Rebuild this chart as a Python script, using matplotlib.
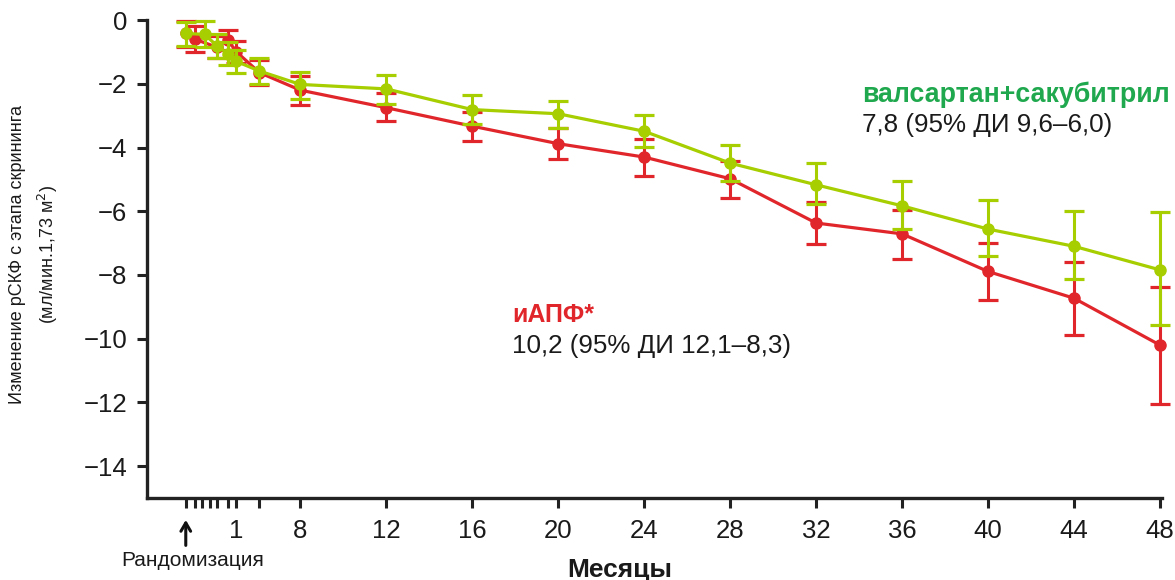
import matplotlib
matplotlib.use('Agg')
import matplotlib.pyplot as plt
from matplotlib.transforms import blended_transform_factory

plt.rcParams['font.family'] = ['Liberation Sans', 'DejaVu Sans']

# axis positions of visits (early visits are stretched on the chart)
tick_pos = [2.67, 3.09, 3.41, 3.78, 4.11, 4.62, 5.03, 6.10,
            8, 12, 16, 20, 24, 28, 32, 36, 40, 44, 48]
tick_labels = ['', '', '', '', '', '', '1', '',
               '8', '12', '16', '20', '24', '28', '32', '36', '40', '44', '48']

# валсартан+сакубитрил
green_x = [2.67, 3.55, 4.11, 4.62, 5.03, 6.10,
           8, 12, 16, 20, 24, 28, 32, 36, 40, 44, 48]
green_y = [-0.42, -0.45, -0.80, -1.05, -1.30, -1.60,
           -2.02, -2.16, -2.81, -2.94, -3.49, -4.49, -5.17, -5.83, -6.56, -7.10, -7.84]
green_hi = [-0.05, -0.02, -0.45, -0.70, -0.95, -1.20,
            -1.62, -1.73, -2.35, -2.53, -2.97, -3.91, -4.49, -5.05, -5.65, -6.00, -6.03]
green_lo = [-0.80, -0.86, -1.20, -1.40, -1.65, -2.02,
            -2.47, -2.62, -3.25, -3.40, -3.99, -5.04, -5.77, -6.56, -7.42, -8.13, -9.57]

# иАПФ
red_x = [2.67, 3.09, 4.11, 4.62, 5.03, 6.10,
         8, 12, 16, 20, 24, 28, 32, 36, 40, 44, 48]
red_y = [-0.40, -0.60, -0.85, -0.62, -1.00, -1.65,
         -2.20, -2.75, -3.33, -3.88, -4.30, -4.98, -6.37, -6.71, -7.89, -8.73, -10.20]
red_hi = [-0.03, -0.19, -0.50, -0.30, -0.65, -1.25,
          -1.74, -2.28, -2.88, -3.40, -3.73, -4.43, -5.72, -5.95, -7.00, -7.60, -8.37]
red_lo = [-0.86, -1.00, -1.20, -0.95, -1.35, -2.05,
          -2.65, -3.18, -3.78, -4.36, -4.88, -5.57, -7.03, -7.49, -8.80, -9.88, -12.06]

GREEN = '#a6ce00'
RED = '#e1262b'

fig = plt.figure(figsize=(11.75, 5.8), dpi=100)
ax = fig.add_axes([0.125, 0.1414, 0.864, 0.824])


def draw(x, y, lo, hi, color, z):
    err = [[v - l for v, l in zip(y, lo)], [h - v for v, h in zip(y, hi)]]
    ax.errorbar(x, y, yerr=err, color=color, lw=2.3, marker='o', ms=8,
                elinewidth=2.2, capsize=7.5, capthick=2.3, zorder=z, clip_on=False)


draw(red_x, red_y, red_lo, red_hi, RED, 3)
draw(green_x, green_y, green_lo, green_hi, GREEN, 4)

ax.set_xlim(0.86, 48.1)
ax.set_ylim(-15, 0)
ax.set_yticks(range(0, -15, -2))
ax.set_yticklabels(['0'] + ['\u2212%d' % v for v in range(2, 15, 2)])
ax.set_xticks(tick_pos)
ax.set_xticklabels(tick_labels)
ax.tick_params(axis='both', width=2.2, length=7, labelsize=18.5, color='#222222',
               labelcolor='#1a1a1a')
ax.tick_params(axis='y', pad=7)
ax.tick_params(axis='x', pad=8)
for s in ['top', 'right']:
    ax.spines[s].set_visible(False)
for s in ['left', 'bottom']:
    ax.spines[s].set_linewidth(2.4)
    ax.spines[s].set_color('#222222')

ax.set_ylabel('Изменение рСКФ с этапа скрининга\n(мл/мин.1,73 м$^2$)', fontsize=13,
              linespacing=1.5, color='#1a1a1a')
ax.yaxis.set_label_coords(-0.086, 0.51)
ax.set_xlabel('Месяцы', fontsize=19, fontweight='bold', color='#1a1a1a')
ax.xaxis.set_label_coords(0.466, -0.126)

tr = blended_transform_factory(ax.transData, ax.transAxes)
ax.annotate('', xy=(tick_pos[0], -0.04), xytext=(tick_pos[0], -0.105),
            xycoords=tr, textcoords=tr,
            arrowprops=dict(arrowstyle='->,head_width=0.35,head_length=0.6', lw=2.2, color='#111111'))
ax.text(tick_pos[0] + 0.3, -0.13, 'Рандомизация', transform=tr, ha='center', va='center',
        fontsize=15, color='#1a1a1a')

ax.text(0.7044, 0.829, 'валсартан+сакубитрил', transform=ax.transAxes, fontsize=19.3,
        fontweight='bold', color='#20a84e', va='baseline')
ax.text(0.7044, 0.766, '7,8 (95% ДИ 9,6–6,0)', transform=ax.transAxes, fontsize=18.7,
        color='#1a1a1a', va='baseline')
ax.text(0.3596, 0.368, 'иАПФ*', transform=ax.transAxes, fontsize=18,
        fontweight='bold', color=RED, va='baseline')
ax.text(0.3596, 0.303, '10,2 (95% ДИ 12,1–8,3)', transform=ax.transAxes, fontsize=18.7,
        color='#1a1a1a', va='baseline')

fig.savefig('out.png', dpi=100)
